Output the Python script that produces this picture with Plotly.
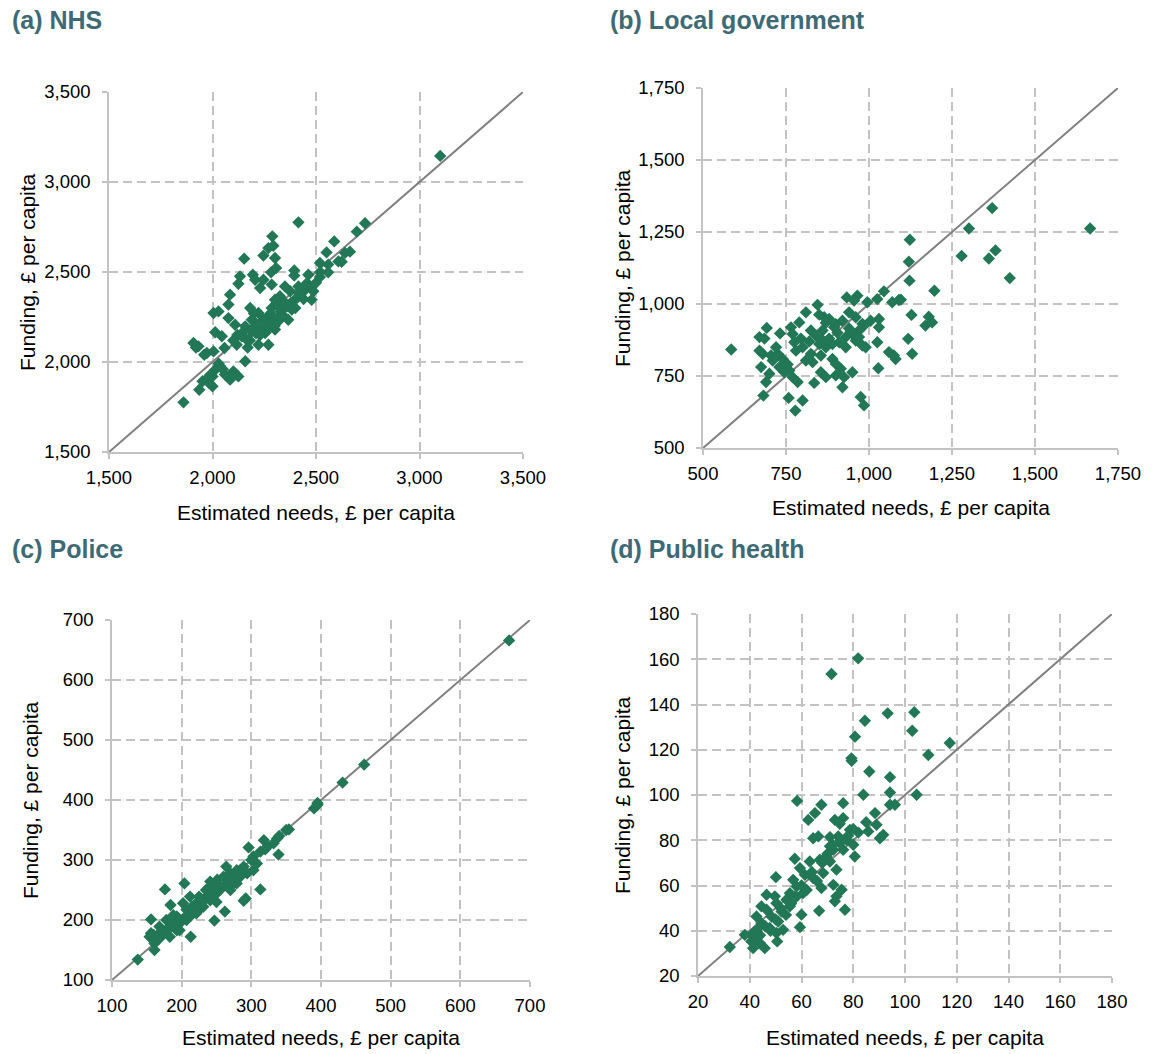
import plotly.graph_objects as go

# ---------------- DATA ----------------
nhs_needs = [2415, 2289, 2588, 2294, 2270, 2246, 2302, 2153, 2551, 2640, 2519, 2559, 2608, 2307, 2283,
             2395, 2395, 2133, 2125, 2195, 2206, 2246, 2230, 2286, 2463, 2457, 2519, 2559, 2085, 2077,
             2182, 2005, 2029, 2077, 2109, 2013, 2045, 1908, 1932, 1973, 2005, 2058, 2158, 2222, 2270,
             2318, 2366, 2342, 2326, 2375, 2415, 2447, 2487, 2479, 2399, 2383, 2302, 2286, 2246, 2206,
             2190, 2141, 2117, 2174, 2222, 2270, 2302, 2254, 2158, 2101, 2125, 2085, 2013, 2037, 2000,
             1968, 2000, 1984, 1936, 1952, 1860, 2190, 2254, 2350, 2415, 3100, 2737, 2697, 2664, 2624,
             2200, 2230, 2260, 2290, 2330, 2350, 2360, 2420, 2440, 2180, 2150, 2120, 2270, 2300, 2320,
             1920, 1960, 2060, 2030, 2240, 2210, 2280, 2340, 2380, 2400, 2430, 2460, 2500, 2520, 2160,
             2100, 2170, 2050, 1990, 2320, 2200]
nhs_funding = [2776, 2698, 2670, 2646, 2633, 2591, 2578, 2574, 2609, 2606, 2550, 2541, 2559, 2522, 2498,
               2509, 2480, 2476, 2435, 2485, 2457, 2457, 2411, 2430, 2485, 2439, 2472, 2498, 2374, 2319,
               2300, 2272, 2281, 2244, 2207, 2165, 2143, 2106, 2087, 2050, 2059, 2078, 2198, 2272, 2254,
               2226, 2235, 2309, 2365, 2393, 2365, 2402, 2393, 2346, 2346, 2291, 2346, 2300, 2235, 2217,
               2170, 2143, 2096, 2124, 2096, 2096, 2180, 2161, 2004, 1948, 1920, 1902, 1957, 1976, 1920,
               1902, 1865, 1883, 1846, 1893, 1776, 2235, 2198, 2420, 2420, 3145, 2771, 2724, 2613, 2557,
               2190, 2150, 2210, 2240, 2280, 2330, 2310, 2380, 2350, 2120, 2170, 2150, 2180, 2200, 2250,
               2080, 2040, 1930, 1990, 2190, 2160, 2270, 2260, 2330, 2300, 2380, 2420, 2440, 2500, 2130,
               2120, 2080, 1960, 1930, 2310, 2270]

lg_needs = [1123, 1120, 1122, 1197, 1045, 1070, 1090, 1025, 995, 933, 965, 955, 845, 810, 865, 880, 850,
            790, 765, 692, 670, 685, 732, 585, 670, 680, 705, 725, 740, 710, 675, 700, 690, 682, 730, 760,
            745, 770, 785, 758, 800, 778, 835, 855, 870, 900, 925, 920, 950, 915, 890, 900, 810, 830, 800,
            775, 780, 770, 825, 840, 860, 850, 870, 855, 825, 895, 920, 940, 960, 980, 970, 950, 930, 910,
            890, 930, 960, 980, 990, 970, 1005, 1030, 1030, 1025, 975, 985, 1060, 1075, 1080, 1028, 1118,
            1130, 1128, 1170, 1180, 1190, 1371, 1301, 1666, 1279, 1381, 1361, 1424, 1096,
            880, 905, 940, 860, 820, 720, 755, 795, 945, 985, 900, 870]
lg_funding = [1223, 1147, 1081, 1046, 1044, 1006, 1014, 1017, 1006, 1023, 1029, 1012, 997, 971, 954, 948,
              963, 936, 919, 917, 885, 880, 898, 842, 838, 827, 821, 827, 809, 804, 781, 758, 729, 682, 781,
              769, 763, 746, 729, 674, 665, 630, 726, 763, 746, 752, 746, 711, 763, 775, 809, 792, 804, 798,
              850, 867, 838, 896, 908, 890, 908, 861, 850, 821, 827, 919, 942, 971, 954, 931, 908, 896, 885,
              867, 861, 850, 873, 856, 850, 885, 942, 948, 919, 867, 677, 648, 833, 821, 809, 777, 879, 827,
              962, 925, 956, 936, 1333, 1262, 1262, 1167, 1186, 1158, 1090, 1015,
              880, 900, 915, 875, 870, 850, 790, 880, 905, 925, 930, 935]

pol_needs = [462, 431, 390, 395, 354, 318, 337, 296, 339, 313, 303, 289, 264, 241, 176, 204, 313, 292, 289,
             262, 247, 213, 184, 156, 137, 161, 156, 168, 178, 193, 188, 207, 202, 215, 225, 236, 246, 251,
             260, 270, 279, 274, 255, 241, 225, 212, 197, 178, 168, 161, 154, 173, 185, 193, 212, 221, 236,
             250, 265, 279, 284, 294, 303, 308, 323, 332, 246, 231, 221, 207, 197, 183, 670,
             230, 245, 255, 265, 275, 285, 215, 205, 190, 180, 170, 160, 235, 300, 320, 340, 350, 395,
             270, 250]
pol_funding = [459, 429, 386, 392, 351, 333, 336, 321, 309, 314, 306, 289, 289, 264, 251, 261, 251, 236,
               232, 214, 199, 172, 225, 201, 134, 150, 178, 189, 200, 183, 208, 217, 228, 222, 239, 250,
               256, 267, 272, 278, 283, 261, 250, 233, 217, 206, 194, 183, 169, 161, 172, 178, 189, 206,
               239, 228, 239, 244, 256, 261, 272, 278, 283, 294, 322, 328, 244, 222, 211, 200, 183, 172, 666,
               230, 240, 255, 262, 270, 280, 215, 205, 195, 185, 180, 175, 250, 300, 318, 340, 350, 395,
               250, 230]

ph_needs = [79.4, 86.2, 94.2, 94.2, 104.5, 83.9, 58.3, 67.7, 76.1, 65.2, 62.6, 72.9, 76.1, 74.8, 88.4,
            94.2, 96.1, 89.0, 90.3, 91.6, 85.8, 64.5, 66.5, 71.0, 74.2, 78.7, 82.0, 77.4, 80.0, 80.6, 76.1,
            72.3, 69.7, 71.0, 73.5, 68.4, 57.4, 63.2, 59.4, 61.3, 64.5, 56.8, 50.1, 58.1, 60.6, 67.7, 72.3,
            75.5, 73.5, 72.9, 76.8, 66.8, 60.0, 59.4, 55.5, 54.2, 52.3, 49.7, 46.5, 44.5, 48.4, 51.0, 52.9,
            50.3, 47.7, 44.5, 42.6, 40.6, 38.1, 40.6, 41.3, 43.9, 45.8, 50.6, 32.3, 42.6, 46.5, 50.3, 55.5,
            67.1, 71.0, 74.8, 81.9, 71.6, 93.3, 103.6, 84.5, 102.8, 80.7, 79.3, 109.0, 117.3,
            42, 44, 46, 48, 50, 52, 54, 56, 58, 60, 62, 64, 66, 68, 70, 72, 75, 78, 80, 85]
ph_funding = [115.1, 110.4, 107.9, 101.1, 100.1, 100.1, 97.4, 95.7, 96.4, 92.0, 89.0, 89.0, 89.8, 87.3,
              92.0, 95.7, 95.7, 86.8, 80.9, 82.4, 83.9, 80.9, 81.7, 81.4, 81.7, 84.6, 83.4, 80.2, 78.0,
              72.8, 75.8, 75.8, 72.8, 70.6, 67.0, 65.5, 71.8, 70.6, 67.7, 64.7, 63.3, 62.5, 63.7, 59.6,
              56.6, 58.9, 60.3, 58.1, 55.2, 53.0, 49.3, 48.8, 47.1, 41.6, 50.8, 53.7, 48.5, 55.2, 55.9,
              50.8, 46.3, 44.1, 40.4, 39.0, 41.2, 43.4, 40.4, 38.2, 38.2, 35.3, 32.3, 34.6, 32.3, 35.3,
              32.8, 46.3, 49.3, 52.2, 56.6, 71.4, 77.3, 78.7, 160.4, 153.5, 136.1, 136.6, 132.8, 128.4,
              125.8, 116.2, 117.7, 123.0,
              36, 38, 42, 40, 45, 50, 47, 52, 55, 60, 58, 66, 62, 70, 74, 78, 80, 82, 85, 88]

titles = ["(a) NHS", "(b) Local government", "(c) Police", "(d) Public health"]
x_title = "Estimated needs, £ per capita"
y_title = "Funding, £ per capita"

nhs_range = [1500, 3500]
nhs_ticks = [1500, 2000, 2500, 3000, 3500]
lg_range = [500, 1750]
lg_ticks = [500, 750, 1000, 1250, 1500, 1750]
pol_range = [100, 700]
pol_ticks = [100, 200, 300, 400, 500, 600, 700]
ph_range = [20, 180]
ph_ticks = [20, 40, 60, 80, 100, 120, 140, 160, 180]

# ---------------- STYLE ----------------
W, H = 1152, 1054
FONT = "Liberation Sans, Arial, sans-serif"
GREEN = "#217756"
GRID = "#c3c3c3"
TITLE_COL = "#3e6a76"

panels = [
    dict(x=nhs_needs, y=nhs_funding, rng=nhs_range, ticks=nhs_ticks,
         px=(109, 523), py=(92, 452), title_pos=(10, 20), xt_y=512, yt_x=27),
    dict(x=lg_needs, y=lg_funding, rng=lg_range, ticks=lg_ticks,
         px=(703, 1118), py=(88, 448), title_pos=(608, 20), xt_y=508, yt_x=622),
    dict(x=pol_needs, y=pol_funding, rng=pol_range, ticks=pol_ticks,
         px=(112, 530), py=(620, 980), title_pos=(10, 549), xt_y=1037, yt_x=30),
    dict(x=ph_needs, y=ph_funding, rng=ph_range, ticks=ph_ticks,
         px=(698, 1112), py=(614, 976), title_pos=(608, 549), xt_y=1037, yt_x=622),
]

fig = go.Figure()
annotations = []
for i, p in enumerate(panels, start=1):
    xa = "x" if i == 1 else f"x{i}"
    ya = "y" if i == 1 else f"y{i}"
    # 45-degree line from the axis range
    fig.add_trace(go.Scatter(x=p["rng"], y=p["rng"], mode="lines",
                             line=dict(color="#7f7f7f", width=2),
                             xaxis=xa, yaxis=ya, showlegend=False, hoverinfo="skip"))
    fig.add_trace(go.Scatter(x=p["x"], y=p["y"], mode="markers",
                             marker=dict(symbol="diamond", size=9.5, color=GREEN, line=dict(width=0)),
                             xaxis=xa, yaxis=ya, showlegend=False))
    axis_common = dict(showgrid=True, gridcolor=GRID, griddash="9px,5px", gridwidth=1.6,
                       showline=True, linecolor=GRID, linewidth=1.6,
                       ticks="outside", ticklen=5, tickcolor=GRID, tickwidth=1.6,
                       tickfont=dict(family=FONT, size=18.5, color="#000000"),
                       tickformat=",", zeroline=False, automargin=False,
                       range=p["rng"], tickvals=p["ticks"], fixedrange=True)
    xdom = [p["px"][0] / W, p["px"][1] / W]
    ydom = [1 - p["py"][1] / H, 1 - p["py"][0] / H]
    xkey = "xaxis" if i == 1 else f"xaxis{i}"
    ykey = "yaxis" if i == 1 else f"yaxis{i}"
    fig.update_layout(**{
        xkey: dict(domain=xdom, anchor=ya, ticklabelstandoff=3, **axis_common),
        ykey: dict(domain=ydom, anchor=xa, ticklabelstandoff=8, **axis_common),
    })
    annotations.append(dict(text=f"<b>{titles[i-1]}</b>", x=p["title_pos"][0] / W,
                            y=1 - p["title_pos"][1] / H, xref="paper", yref="paper",
                            xanchor="left", yanchor="middle", showarrow=False,
                            font=dict(family=FONT, size=25, color=TITLE_COL)))
    annotations.append(dict(text=x_title, x=(p["px"][0] + p["px"][1]) / 2 / W,
                            y=1 - p["xt_y"] / H, xref="paper", yref="paper",
                            xanchor="center", yanchor="middle", showarrow=False,
                            font=dict(family=FONT, size=21, color="#000000")))
    annotations.append(dict(text=y_title, x=p["yt_x"] / W,
                            y=1 - (p["py"][0] + p["py"][1]) / 2 / H, xref="paper", yref="paper",
                            xanchor="center", yanchor="middle", showarrow=False, textangle=-90,
                            font=dict(family=FONT, size=21, color="#000000")))

fig.update_layout(width=W, height=H, margin=dict(l=0, r=0, t=0, b=0),
                  paper_bgcolor="white", plot_bgcolor="white",
                  annotations=annotations, showlegend=False)

fig.write_html("out.html", config={"displayModeBar": False},
               post_script="document.body.style.margin='0';document.body.style.overflow='hidden';")
